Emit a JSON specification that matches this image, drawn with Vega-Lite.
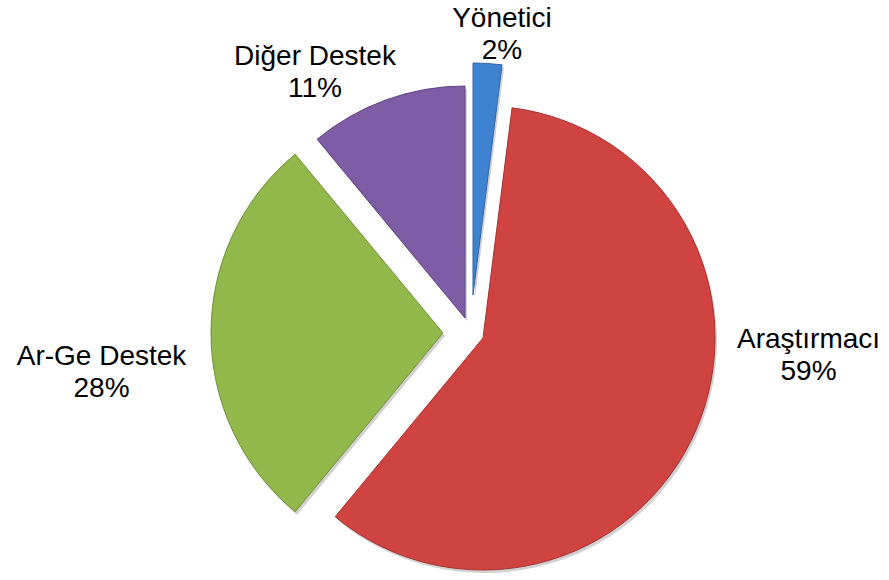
{
  "$schema": "https://vega.github.io/schema/vega-lite/v6.json",
  "width": 889,
  "height": 580,
  "autosize": {"type": "none"},
  "padding": 0,
  "background": "white",
  "config": {"view": {"stroke": null}},
  "data": {"values": [
    {"Kategori": "Yönetici", "Oran": 2},
    {"Kategori": "Araştırmacı", "Oran": 59},
    {"Kategori": "Ar-Ge Destek", "Oran": 28},
    {"Kategori": "Diğer Destek", "Oran": 11}
  ]},
  "transform": [
    {"stack": "Oran", "groupby": [], "as": ["bas", "son"]},
    {"calculate": "(datum.bas + datum.son) / 2", "as": "orta"},
    {"calculate": "[datum.Kategori, datum.Oran + '%']", "as": "etiket"}
  ],
  "layer": [
    {
      "transform": [{"filter": "datum.Kategori == 'Yönetici'"}],
      "layer": [
        {"mark": {"type": "arc", "outerRadius": 232, "xOffset": 30.5, "yOffset": 8, "fill": "#000000", "opacity": 0.18},
         "encoding": {"theta": {"field": "bas", "type": "quantitative", "scale": {"domain": [0, 100]}}, "theta2": {"field": "son"}}},
        {"mark": {"type": "arc", "outerRadius": 232, "xOffset": 28.5, "yOffset": 5, "fill": "#3E82D2", "stroke": "#2F65A8", "strokeWidth": 1},
         "encoding": {"theta": {"field": "bas", "type": "quantitative", "scale": {"domain": [0, 100]}}, "theta2": {"field": "son"}}},
        {"mark": {"type": "text", "radius": 261, "xOffset": 28.5, "yOffset": 5, "dx": 12.6, "dy": -15.2, "font": "Liberation Sans", "fontSize": 28, "lineHeight": 32, "align": "center", "baseline": "middle", "fill": "#000000"},
         "encoding": {"theta": {"field": "orta", "type": "quantitative", "scale": {"domain": [0, 100]}}, "text": {"field": "etiket"}}}
      ]
    },
    {
      "transform": [{"filter": "datum.Kategori == 'Araştırmacı'"}],
      "layer": [
        {"mark": {"type": "arc", "outerRadius": 232, "xOffset": 40.5, "yOffset": 51, "fill": "#000000", "opacity": 0.18},
         "encoding": {"theta": {"field": "bas", "type": "quantitative", "scale": {"domain": [0, 100]}}, "theta2": {"field": "son"}}},
        {"mark": {"type": "arc", "outerRadius": 232, "xOffset": 38.5, "yOffset": 48, "fill": "#CF4341", "stroke": "#A33230", "strokeWidth": 1},
         "encoding": {"theta": {"field": "bas", "type": "quantitative", "scale": {"domain": [0, 100]}}, "theta2": {"field": "son"}}},
        {"mark": {"type": "text", "radius": 306, "xOffset": 38.5, "yOffset": 48, "dx": 44.7, "dy": -119.5, "font": "Liberation Sans", "fontSize": 28, "lineHeight": 32, "align": "center", "baseline": "middle", "fill": "#000000"},
         "encoding": {"theta": {"field": "orta", "type": "quantitative", "scale": {"domain": [0, 100]}}, "text": {"field": "etiket"}}}
      ]
    },
    {
      "transform": [{"filter": "datum.Kategori == 'Ar-Ge Destek'"}],
      "layer": [
        {"mark": {"type": "arc", "outerRadius": 232, "xOffset": 0.5, "yOffset": 46, "fill": "#000000", "opacity": 0.18},
         "encoding": {"theta": {"field": "bas", "type": "quantitative", "scale": {"domain": [0, 100]}}, "theta2": {"field": "son"}}},
        {"mark": {"type": "arc", "outerRadius": 232, "xOffset": -1.5, "yOffset": 43, "fill": "#92B84C", "stroke": "#6F8E35", "strokeWidth": 1},
         "encoding": {"theta": {"field": "bas", "type": "quantitative", "scale": {"domain": [0, 100]}}, "theta2": {"field": "son"}}},
        {"mark": {"type": "text", "radius": 341.5, "xOffset": -1.5, "yOffset": 43, "dx": 0, "dy": 24, "font": "Liberation Sans", "fontSize": 28, "lineHeight": 32, "align": "center", "baseline": "middle", "fill": "#000000"},
         "encoding": {"theta": {"field": "orta", "type": "quantitative", "scale": {"domain": [0, 100]}}, "text": {"field": "etiket"}}}
      ]
    },
    {
      "transform": [{"filter": "datum.Kategori == 'Diğer Destek'"}],
      "layer": [
        {"mark": {"type": "arc", "outerRadius": 232, "xOffset": 22.5, "yOffset": 31, "fill": "#000000", "opacity": 0.18},
         "encoding": {"theta": {"field": "bas", "type": "quantitative", "scale": {"domain": [0, 100]}}, "theta2": {"field": "son"}}},
        {"mark": {"type": "arc", "outerRadius": 232, "xOffset": 20.5, "yOffset": 28, "fill": "#7E5DA6", "stroke": "#5E4480", "strokeWidth": 1},
         "encoding": {"theta": {"field": "bas", "type": "quantitative", "scale": {"domain": [0, 100]}}, "theta2": {"field": "son"}}},
        {"mark": {"type": "text", "radius": 281, "xOffset": 20.5, "yOffset": 28, "dx": -54.8, "dy": 3.4, "font": "Liberation Sans", "fontSize": 28, "lineHeight": 32, "align": "center", "baseline": "middle", "fill": "#000000"},
         "encoding": {"theta": {"field": "orta", "type": "quantitative", "scale": {"domain": [0, 100]}}, "text": {"field": "etiket"}}}
      ]
    }
  ]
}
